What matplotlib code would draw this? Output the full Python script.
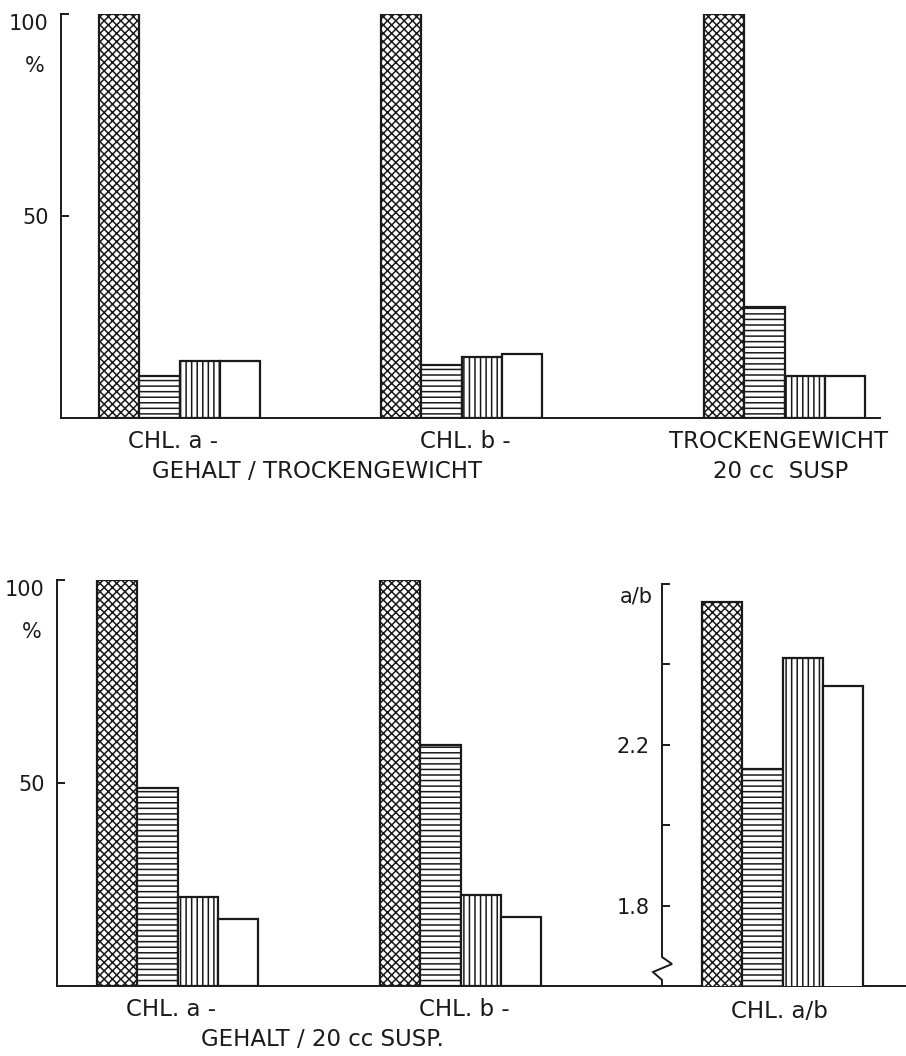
import matplotlib
matplotlib.use("Agg")
import matplotlib.pyplot as plt
import numpy as np

plt.rcParams['font.family'] = ['DejaVu Sans']
plt.rcParams['hatch.linewidth'] = 1.1
plt.rcParams['hatch.color'] = '#1a1a1a'

# ---------------- data ----------------
top_groups = ["CHL. a -", "CHL. b -", "TROCKENGEWICHT"]
top_crosshatch = [100, 100, 100]
top_horizontal = [10.4, 13.0, 27.5]
top_vertical = [14.1, 15.2, 10.5]
top_white = [14.1, 15.8, 10.5]

bot_groups = ["CHL. a -", "CHL. b -"]
bot_crosshatch = [100, 100]
bot_horizontal = [48.8, 59.4]
bot_vertical = [22.0, 22.5]
bot_white = [16.5, 17.0]

ratio_group = ["CHL. a/b"]
ratio_crosshatch = [2.556]
ratio_horizontal = [2.139]
ratio_vertical = [2.416]
ratio_white = [2.347]

pct_ticks = [50, 100]
pct_ticklabels = ["50", "100"]
ratio_ticks = [1.8, 2.0, 2.2, 2.4, 2.6]
ratio_ticklabels = ["1.8", "", "2.2", "", ""]

# ---------------- layout helpers ----------------
W, H = 906, 1056
fig = plt.figure(figsize=(W / 100, H / 100), dpi=100)
fig.patch.set_facecolor('white')

def axes_px(left, top, right, bottom):
    return fig.add_axes([left / W, 1 - bottom / H, (right - left) / W, (bottom - top) / H])

BARW = 40.3
INK = '#1a1a1a'
styles = [dict(hatch='xxxx', facecolor='white'),
          dict(hatch='---', facecolor='white'),
          dict(hatch='|||', facecolor='white'),
          dict(hatch=None, facecolor='white')]

def draw_groups(ax, starts, series):
    for g, s in enumerate(starts):
        for k, vals in enumerate(series):
            ax.bar(s + k * BARW, vals[g], width=BARW, align='edge',
                   edgecolor=INK, linewidth=1.6, **styles[k], zorder=2)

def style_axis(ax):
    for sp in ['top', 'right']:
        ax.spines[sp].set_visible(False)
    for sp in ['left', 'bottom']:
        ax.spines[sp].set_linewidth(1.4)
        ax.spines[sp].set_color(INK)
    ax.set_xticks([])
    ax.tick_params(axis='y', direction='in', length=6, width=1.4, colors=INK,
                   labelsize=15, pad=9)
    ax.patch.set_alpha(0)

FS = 15
LFS = 16.5

def label(xc, yc, s):
    fig.text(xc / W, 1 - yc / H, s, ha='center', va='center', fontsize=LFS, color=INK)

# ---------------- top panel ----------------
axT = axes_px(61, 14, 880, 418)
axT.set_xlim(0, 880 - 61)
axT.set_ylim(0, 100)
draw_groups(axT, [99 - 61, 381 - 61, 704 - 61],
            [top_crosshatch, top_horizontal, top_vertical, top_white])
style_axis(axT)
axT.set_yticks(pct_ticks)
axT.set_yticklabels(pct_ticklabels)
for lab in axT.get_yticklabels():
    if lab.get_text() == "100":
        lab.set_va('top')
fig.text(35 / W, 1 - 66 / H, "%", ha='center', va='center', fontsize=FS, color=INK)

label(173, 441, top_groups[0])
label(465, 441, top_groups[1])
label(779, 441, top_groups[2])
label(317, 471, "GEHALT / TROCKENGEWICHT")
label(781, 471, "20 cc  SUSP")

# ---------------- bottom-left panel ----------------
axB = axes_px(57, 580, 906, 986)
axB.set_xlim(0, 906 - 57)
axB.set_ylim(0, 100)
draw_groups(axB, [97 - 57, 380 - 57],
            [bot_crosshatch, bot_horizontal, bot_vertical, bot_white])
style_axis(axB)
axB.set_yticks(pct_ticks)
axB.set_yticklabels(pct_ticklabels)
for lab in axB.get_yticklabels():
    if lab.get_text() == "100":
        lab.set_va('top')
fig.text(32 / W, 1 - 632 / H, "%", ha='center', va='center', fontsize=FS, color=INK)

label(171, 1009, bot_groups[0])
label(464, 1009, bot_groups[1])
label(322, 1040, "GEHALT / 20 cc SUSP.")

# ---------------- bottom-right panel (ratio a/b) ----------------
axR = axes_px(662, 584, 906, 986)
axR.set_xlim(0, 906 - 662)
axR.set_ylim(1.6, 2.6)
draw_groups(axR, [702 - 662],
            [ratio_crosshatch, ratio_horizontal, ratio_vertical, ratio_white])
for sp in axR.spines.values():
    sp.set_visible(False)
axR.set_xticks([])
axR.set_yticks(ratio_ticks)
axR.set_yticklabels(ratio_ticklabels)
axR.tick_params(axis='y', direction='in', length=6, width=1.4, colors=INK,
                labelsize=FS, pad=9)
axR.patch.set_alpha(0)
# axis line with break symbol near the bottom
bx = np.array([0, 0, 10, -9, 0, 0]) / 244.0
by = (986 - np.array([584, 957, 964, 972, 980, 986])) / 402.0
axR.plot(bx, by, transform=axR.transAxes, color=INK, lw=1.4, clip_on=False,
         solid_joinstyle='miter', zorder=3)
fig.text(653 / W, 1 - 596 / H, "a/b", ha='right', va='center', fontsize=FS, color=INK)
label(779, 1012, ratio_group[0])

fig.savefig("out.png", dpi=100, facecolor='white')
